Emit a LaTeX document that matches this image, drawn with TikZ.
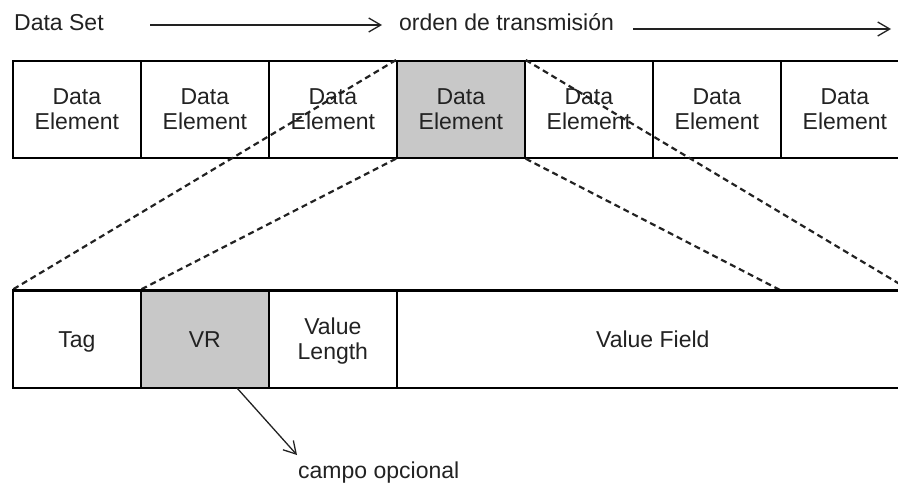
\documentclass[tikz,border=0pt]{standalone}
\usepackage{fontspec}
\setmainfont{Liberation Sans}
\usetikzlibrary{arrows.meta}
\definecolor{cellgray}{HTML}{C8C8C8}
\definecolor{ink}{HTML}{222222}
% one line of cell text, with a fixed height so all cells centre alike
\newcommand{\celltext}[1]{\smash{#1}\rule[-1.5pt]{0pt}{19pt}}
\begin{document}
\begin{tikzpicture}[x=1pt,y=-1pt,
  every node/.style={font=\fontsize{23}{25}\selectfont, text=ink},
  cell/.style={draw=black, line width=1.7pt, minimum width=128pt, minimum height=97pt,
    inner sep=0pt, anchor=north west, align=center},
  shaded/.style={cell, fill=cellgray},
  zoomline/.style={draw=ink, line width=2.2pt, dash pattern=on 6pt off 4pt},
  flow/.style={draw=ink, line width=1.3pt, -{Straight Barb[length=12pt,width=14pt,line width=1.3pt]}},
  label/.style={inner sep=0pt, anchor=base west}]
\useasboundingbox (0,0) rectangle (898,487);
\clip (0,0) rectangle (898,487);

% header: data set and transmission order
\node[label] (ds) at (14,31) {Data Set};
\node[label] (orden) at (399,31) {orden de transmisión};
\coordinate (a1s) at (150,25);
\coordinate (a1e) at (382,25);
\coordinate (a2s) at (633,29);
\coordinate (a2e) at (891,29);
\draw[flow] (a1s) -- (a1e);
\draw[flow] (a2s) -- (a2e);

% data set row: seven data elements
\foreach \i in {1,2,3,5,6,7}
  \node[cell] (de\i) at ({12+128*(\i-1)},60) {\celltext{Data}\\\celltext{Element}};
\node[shaded] (de4) at (396,60) {\celltext{Data}\\\celltext{Element}};

% expanded data element
\node[cell] (tag) at (12,290) {\celltext{Tag}};
\node[shaded] (vr) at (140,290) {\celltext{VR}};
\node[cell] (vlen) at (268,290) {\celltext{Value}\\\celltext{Length}};
\node[cell, minimum width=512pt] (vfield) at (396,290) {\celltext{Value Field}};
\coordinate (vfmid) at (780,290);

% zoom lines
\draw[zoomline] (de4.north west) -- (tag.north west);
\draw[zoomline] (de4.south west) -- (vr.north west);
\draw[zoomline] (de4.south east) -- (vfmid);
\draw[zoomline] (de4.north east) -- (vfield.north east);

% redraw cell borders over the dashed line ends
\foreach \n in {tag,vr,vlen,vfield}
  \draw[line width=1.7pt] (\n.north west) -- (\n.north east);

% optional field note
\node[label] (opc) at (298,478) {campo opcional};
\coordinate (vrout) at (237,388);
\coordinate (vrtip) at (297,455);
\draw[flow] (vrout) -- (vrtip);
\end{tikzpicture}
\end{document}
